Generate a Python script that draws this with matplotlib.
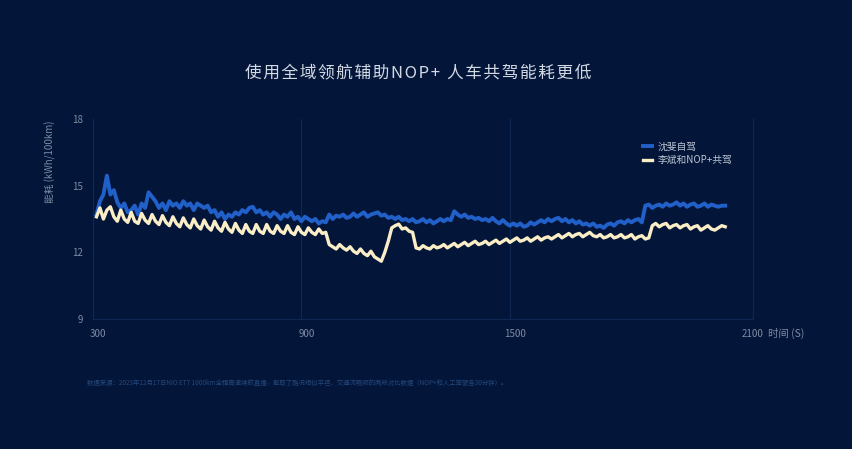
import matplotlib
matplotlib.use("Agg")
import matplotlib.pyplot as plt
import matplotlib.transforms as mtransforms

plt.rcParams['font.family'] = ['Noto Sans CJK SC', 'DejaVu Sans']

# time axis (s) and energy use (kWh/100km)
time_s = list(range(310, 2130, 10))

shen_fei = [13.7,
    14.3, 14.6, 15.45, 14.6, 14.8, 14.25, 14.0, 14.2, 13.8, 13.9,
    14.1, 13.7, 14.2, 14.0, 14.7, 14.5, 14.3, 14.0, 14.2, 13.9,
    14.3, 14.1, 14.2, 14.0, 14.3, 14.1, 14.2, 13.9, 14.2, 14.1,
    14.0, 14.1, 13.8, 13.9, 13.6, 13.8, 13.5, 13.7, 13.6, 13.8,
    13.7, 13.9, 13.8, 14.0, 14.05, 13.8, 13.9, 13.7, 13.8, 13.6,
    13.8, 13.7, 13.5, 13.7, 13.6, 13.8, 13.5, 13.6, 13.4, 13.6,
    13.5, 13.4, 13.5, 13.3, 13.4, 13.35, 13.7, 13.5, 13.65, 13.6,
    13.7, 13.55, 13.6, 13.75, 13.6, 13.7, 13.8, 13.6, 13.7, 13.75,
    13.8, 13.65, 13.7, 13.55, 13.6, 13.5, 13.6, 13.45, 13.5, 13.4,
    13.5, 13.35, 13.4, 13.5, 13.35, 13.45, 13.3, 13.4, 13.5, 13.4,
    13.5, 13.45, 13.85, 13.7, 13.6, 13.7, 13.55, 13.6, 13.5, 13.55,
    13.45, 13.5, 13.4, 13.55, 13.4, 13.3, 13.45, 13.3, 13.2, 13.3,
    13.2, 13.3, 13.15, 13.2, 13.35, 13.25, 13.35, 13.45, 13.35, 13.5,
    13.4, 13.5, 13.55, 13.4, 13.5, 13.35, 13.45, 13.3, 13.4, 13.25,
    13.3, 13.2, 13.3, 13.15, 13.2, 13.1, 13.25, 13.3, 13.2, 13.35,
    13.4, 13.3, 13.45, 13.35, 13.45, 13.5, 13.35, 14.1, 14.15, 14.0,
    14.1, 14.15, 14.05, 14.2, 14.1, 14.15, 14.25, 14.1, 14.2, 14.05,
    14.15, 14.2, 14.05, 14.1, 14.2, 14.05, 14.15, 14.1, 14.05, 14.1,
    14.1]

li_bin_nop = [13.6,
    14.0, 13.5, 13.9, 14.05, 13.6, 13.4, 13.9, 13.5, 13.35, 13.8,
    13.4, 13.3, 13.75, 13.45, 13.3, 13.7, 13.4, 13.25, 13.65, 13.35,
    13.2, 13.6, 13.3, 13.15, 13.55, 13.25, 13.1, 13.5, 13.2, 13.05,
    13.45, 13.15, 13.0, 13.4, 13.1, 12.95, 13.35, 13.05, 12.9, 13.3,
    13.0, 12.85, 13.25, 12.95, 12.85, 13.25, 12.95, 12.85, 13.25, 12.95,
    12.85, 13.2, 12.95, 12.85, 13.2, 12.9, 12.8, 13.15, 12.9, 12.8,
    13.1, 12.9, 12.8, 13.05, 12.85, 12.9, 12.35, 12.25, 12.15, 12.35,
    12.2, 12.1, 12.25, 12.05, 11.95, 12.15, 11.95, 11.85, 12.05, 11.8,
    11.7, 11.6, 12.0, 12.5, 13.1, 13.2, 13.27, 13.05, 13.1, 12.95,
    12.9, 12.2, 12.15, 12.3, 12.2, 12.15, 12.3, 12.2, 12.25, 12.35,
    12.2, 12.3, 12.4, 12.25, 12.35, 12.45, 12.3, 12.4, 12.5, 12.35,
    12.4, 12.5, 12.35, 12.45, 12.55, 12.4, 12.5, 12.6, 12.45, 12.55,
    12.65, 12.5, 12.55, 12.65, 12.5, 12.6, 12.7, 12.55, 12.65, 12.7,
    12.6, 12.7, 12.8, 12.65, 12.75, 12.85, 12.7, 12.8, 12.85, 12.7,
    12.8, 12.9, 12.75, 12.7, 12.8, 12.65, 12.7, 12.8, 12.65, 12.7,
    12.8, 12.65, 12.7, 12.8, 12.6, 12.7, 12.75, 12.6, 12.65, 13.2,
    13.3, 13.15, 13.25, 13.3, 13.1, 13.2, 13.25, 13.1, 13.2, 13.25,
    13.05, 13.15, 13.2, 13.0, 13.1, 13.2, 13.05, 13.0, 13.1, 13.2,
    13.15]

x_ticks = [300, 900, 1500, 2200]
x_tick_labels = ["300", "900", "1500", "2100"]
y_ticks = [9, 12, 15, 18]

bg = "#03163a"
grid_c = "#0f2751"
tick_c = "#7f8ba3"

fig = plt.figure(figsize=(8.52, 4.49), dpi=100, facecolor=bg)
ax = fig.add_axes([93 / 852, 130 / 449, 660 / 852, 200 / 449], facecolor=bg)

ax.plot(time_s, shen_fei, color="#2160c9", lw=2.8, label="沈斐自驾")
ax.plot(time_s, li_bin_nop, color="#fbeec6", lw=2.4, label="李斌和NOP+共驾")

ax.set_xlim(300, 2200)
ax.set_ylim(9, 18)
ax.set_xticks(x_ticks)
ax.set_xticklabels(x_tick_labels)
ax.set_yticks(y_ticks)
ax.tick_params(length=0, colors=tick_c, labelsize=7)
ax.tick_params(axis="x", pad=7)
ax.tick_params(axis="y", pad=7)
ax.grid(axis="x", color=grid_c, lw=0.8)
ax.spines["top"].set_visible(False)
for side in ["left", "bottom", "right"]:
    ax.spines[side].set_color(grid_c)
    ax.spines[side].set_linewidth(0.8)

# tick labels sit slightly right of their ticks, last one centred at the edge
shift = mtransforms.ScaledTranslation(5 / 100, 0, fig.dpi_scale_trans)
for lab in ax.get_xticklabels()[:-1]:
    lab.set_transform(lab.get_transform() + shift)

ax.text(768 / 852, 1 - 333 / 449, "时间 (S)", transform=fig.transFigure,
        color=tick_c, fontsize=7.5, ha="left", va="center")

fig.text(50 / 852, 1 - 162 / 449, "能耗 (kWh/100km)", rotation=90,
         color=tick_c, fontsize=7, ha="center", va="center")

title = "\u200a".join("使用全域领航辅助NOP+ 人车共驾能耗更低")
fig.text(418 / 852, 1 - 73 / 449, title, color="#d3d9e3", fontsize=12,
         ha="center", va="center")

leg = ax.legend(loc="upper left", bbox_to_anchor=(634 / 852, 1 - 133 / 449),
                bbox_transform=fig.transFigure, frameon=False, fontsize=7,
                handlelength=1.0, handletextpad=0.5, labelspacing=0.35)
for t in leg.get_texts():
    t.set_color("#bcc4d3")

fig.text(87 / 852, 1 - 383 / 449,
         "数据来源：2023年12月17日NIO ET7 1000km全程高速续航直播，截取了路况相似平坦、"
         "交通流畅顺的两段对比数据（NOP+和人工驾驶各30分钟）。",
         color="#24477a", fontsize=4.6, ha="left", va="center")

fig.savefig("out.png", dpi=100, facecolor=bg)
